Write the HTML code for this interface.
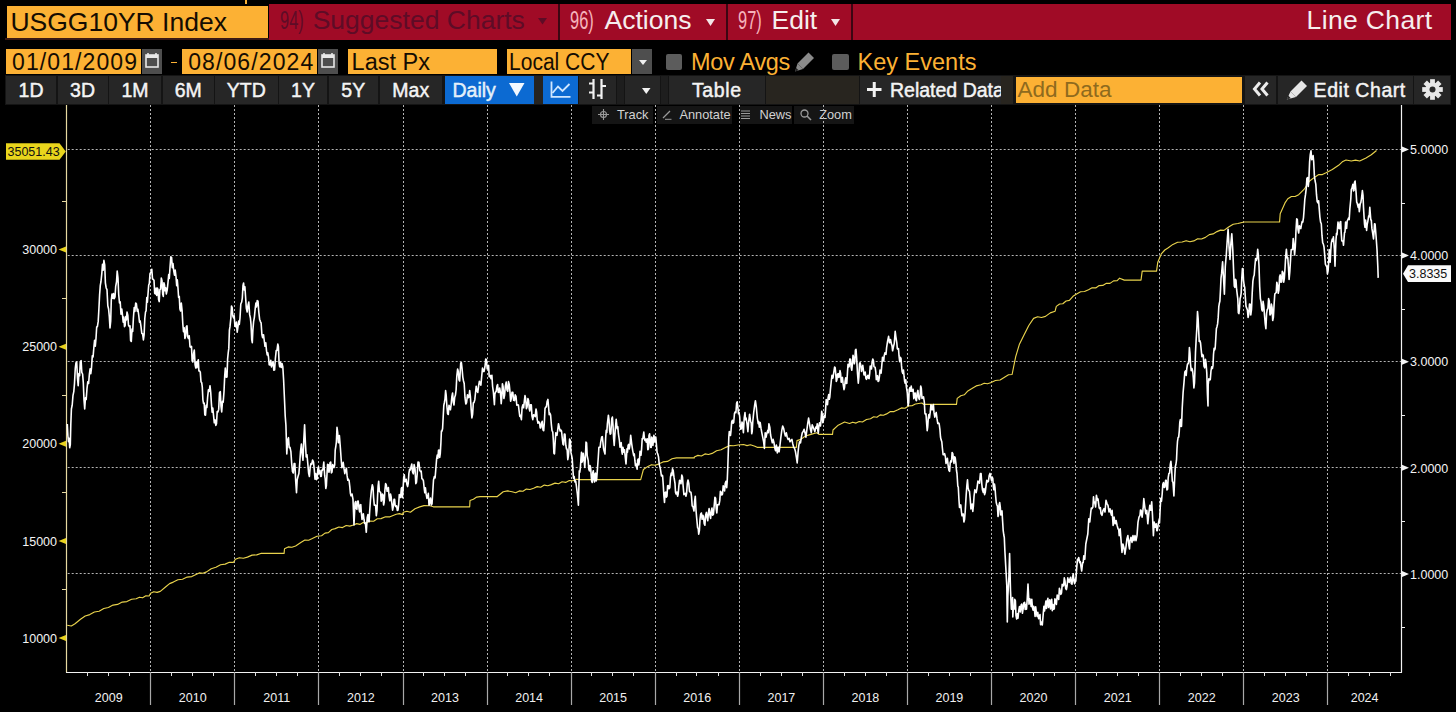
<!DOCTYPE html>
<html><head><meta charset="utf-8">
<style>
*{margin:0;padding:0;box-sizing:border-box}
html,body{width:1456px;height:712px;background:#000;overflow:hidden}
body{position:relative;font-family:"Liberation Sans",Arial,sans-serif}
.a{position:absolute}
.t{position:absolute;white-space:nowrap}
.or{position:absolute;background:#fcb134}
.rd{position:absolute;background:#a00b26}
.r1{font-size:26.5px;color:#f6eeee}
.r2{font-size:23.5px;color:#140c02}
.gb{position:absolute;background:#4e4e4e}
.bt{position:absolute;top:76px;height:28px;background:#262626;color:#f4f4f4;font-size:19.5px;-webkit-text-stroke:0.45px #f4f4f4;text-align:center;line-height:28px;white-space:nowrap;overflow:hidden}
.cn{display:inline-block;transform:scaleX(.62);transform-origin:0 50%}
.sb{position:absolute;top:106px;height:18px;background:#151515}
.st{position:absolute;top:107.3px;font-size:12.8px;color:#d2d2d2;white-space:nowrap}
.lr{font-size:12.5px;color:#f4f4f4;line-height:16px}
.ll{font-size:12.5px;color:#f4f4f4;line-height:16px;text-align:right}
.yl{font-size:12.5px;color:#f0f0f0;text-align:center;line-height:16px}
</style></head><body>
<!-- row 1 -->
<div class="a" style="left:245px;top:0;width:2px;height:4px;background:#fcb134"></div>
<div class="or" style="left:7px;top:6px;width:261px;height:32px"></div>
<div class="a" style="left:5px;top:38px;width:264px;height:2px;background:#3a1a14"></div>
<div class="t" style="left:10.4px;top:7.4px;font-size:26.5px;color:#140c02">USGG10YR Index</div>
<div class="a" style="left:269px;top:4px;width:1182px;height:35.5px;background:#3c0612"></div>
<div class="rd" style="left:269px;top:4px;width:289px;height:35.5px"></div>
<div class="t r1" style="left:280px;top:4.6px;color:#5e0c26"><span class="cn">94)</span></div>
<div class="t r1" style="left:312.7px;top:4.6px;color:#5e0c26">Suggested Charts</div>
<svg class="a" style="left:538px;top:18px" width="9" height="7"><path d="M0 0H9L4.5 6.5Z" fill="#5e0c26"/></svg>
<div class="rd" style="left:560px;top:4px;width:166px;height:35.5px"></div>
<div class="t r1" style="left:570px;top:4.6px;color:#f5b3bb"><span class="cn">96)</span></div>
<div class="t r1" style="left:604.5px;top:4.6px">Actions</div>
<svg class="a" style="left:706px;top:18.5px" width="9" height="7"><path d="M0 0H9L4.5 7Z" fill="#f3e6e6"/></svg>
<div class="rd" style="left:728px;top:4px;width:123px;height:35.5px"></div>
<div class="t r1" style="left:738px;top:4.6px;color:#f5b3bb"><span class="cn">97)</span></div>
<div class="t r1" style="left:771.5px;top:4.6px">Edit</div>
<svg class="a" style="left:830.5px;top:18.7px" width="9" height="7"><path d="M0 0H9L4.5 7Z" fill="#f3e6e6"/></svg>
<div class="rd" style="left:853px;top:4px;width:598px;height:35.5px"></div>
<div class="t r1" style="left:1306.6px;top:4.9px;letter-spacing:0.35px">Line Chart</div>

<!-- row 2 -->
<div class="or" style="left:6px;top:49px;width:135px;height:25px"></div>
<div class="t r2" style="left:12px;top:48.6px;font-size:23px;letter-spacing:1.1px">01/01/2009</div>
<div class="gb" style="left:142px;top:49px;width:20px;height:25px"></div>
<svg class="a" style="left:145px;top:52px" width="14" height="17"><path d="M3 1V4M11 1V4" stroke="#e8e8e8" stroke-width="1.6"/><rect x="1" y="3" width="12" height="12" fill="none" stroke="#e8e8e8" stroke-width="1.6"/><rect x="1" y="3" width="12" height="3" fill="#e8e8e8"/></svg>
<div class="a" style="left:170.5px;top:61.5px;width:6.5px;height:1.6px;background:#fcb134"></div>
<div class="or" style="left:182px;top:49px;width:135px;height:25px"></div>
<div class="t r2" style="left:188.2px;top:48.6px;font-size:23px;letter-spacing:1.1px">08/06/2024</div>
<div class="gb" style="left:318px;top:49px;width:20px;height:25px"></div>
<svg class="a" style="left:321px;top:52px" width="14" height="17"><path d="M3 1V4M11 1V4" stroke="#e8e8e8" stroke-width="1.6"/><rect x="1" y="3" width="12" height="12" fill="none" stroke="#e8e8e8" stroke-width="1.6"/><rect x="1" y="3" width="12" height="3" fill="#e8e8e8"/></svg>
<div class="or" style="left:348px;top:49px;width:149px;height:25px"></div>
<div class="t r2" style="left:351.6px;top:48.7px">Last Px</div>
<div class="or" style="left:507px;top:49px;width:124px;height:25px"></div>
<div class="t r2" style="left:508.5px;top:49.4px;transform:scaleX(0.895);transform-origin:0 0">Local CCY</div>
<div class="gb" style="left:632px;top:49px;width:20px;height:25px"></div>
<svg class="a" style="left:639px;top:59.5px" width="8" height="6"><path d="M0 0H8L4 5Z" fill="#f0f0f0"/></svg>
<div class="a" style="left:666px;top:54px;width:16px;height:16px;background:#5c5c5c;border-radius:2px"></div>
<div class="t r2" style="left:691px;top:48.7px;color:#fcb134;letter-spacing:-0.3px">Mov Avgs</div>
<svg class="a" style="left:794px;top:51px" width="22" height="21"><path d="M14.5 1.5L20 7L9 18L3.5 12.5Z" fill="#8a8a8a"/><path d="M3.5 12.5L9 18L1 20.5Z" fill="#8a8a8a"/><path d="M1 20.5L2.2 17L4.6 19.3Z" fill="#222"/></svg>
<div class="a" style="left:832px;top:54px;width:17px;height:16px;background:#5c5c5c;border-radius:2px"></div>
<div class="t r2" style="left:857.6px;top:48.7px;color:#fcb134">Key Events</div>

<!-- row 3 -->
<div class="a" style="left:5px;top:75px;width:1446px;height:30px;background:#141414"></div>
<div class="bt" style="left:6px;width:50px">1D</div>
<div class="bt" style="left:57.5px;width:50px">3D</div>
<div class="bt" style="left:109px;width:52px">1M</div>
<div class="bt" style="left:162.5px;width:51.5px">6M</div>
<div class="bt" style="left:215px;width:62.5px">YTD</div>
<div class="bt" style="left:279px;width:48px">1Y</div>
<div class="bt" style="left:328.5px;width:49.5px">5Y</div>
<div class="bt" style="left:380px;width:61.5px">Max</div>
<div class="bt" style="left:445px;width:89.3px;background:#0c6ad2;color:#dcefff;text-align:left;padding-left:7.5px">Daily</div>
<svg class="a" style="left:509px;top:83px" width="15.5" height="14"><path d="M0 0H15.5L7.75 13.5Z" fill="#f2f8ff"/></svg>
<div class="bt" style="left:534.3px;width:8.7px;background:#26231f"></div>
<div class="bt" style="left:543px;width:35px;background:#0c6ad2"></div>
<svg class="a" style="left:550px;top:81px" width="22" height="17"><path d="M1.5 0.5V15.8H20.5" stroke="#cfe6ff" stroke-width="1.8" fill="none"/><path d="M2.5 12L8 5.5L12.5 10L19.5 3" stroke="#cfe6ff" stroke-width="1.8" fill="none"/></svg>
<div class="bt" style="left:578.5px;width:37.5px"></div>
<svg class="a" style="left:588px;top:78px" width="19" height="22"><path d="M5.5 1V21M13.5 1V21" stroke="#f2f2f2" stroke-width="2.2"/><path d="M1 5.5H5.5M13.5 8H18M1 14.5H5.5M9 17.5H13.5" stroke="#f2f2f2" stroke-width="2"/></svg>
<div class="bt" style="left:617px;width:6.5px;background:#1e1e1e"></div>
<div class="bt" style="left:624.6px;width:35.4px"></div>
<svg class="a" style="left:642px;top:87.7px" width="8.5" height="6"><path d="M0 0H8.5L4.25 6Z" fill="#f2f2f2"/></svg>
<div class="bt" style="left:661px;width:6.5px;background:#1e1e1e"></div>
<div class="bt" style="left:669px;width:95.6px;letter-spacing:0.6px">Table</div>
<div class="bt" style="left:766px;width:92.6px;background:#28251f"></div>
<div class="bt" style="left:860px;width:141.3px;text-align:left;padding-left:30px">Related Data</div>
<svg class="a" style="left:867.4px;top:81.6px" width="14.5" height="15"><path d="M7.25 0V15M0 7.5H14.5" stroke="#f2f2f2" stroke-width="3"/></svg>
<div class="bt" style="left:1001.3px;width:12px;background:#28251f"></div>
<div class="or" style="left:1016.4px;top:77px;width:226px;height:25.5px"></div>
<div class="t" style="left:1017.6px;top:76.5px;font-size:22.5px;color:#8e6a1e">Add Data</div>
<div class="bt" style="left:1245.4px;width:30.6px"></div>
<svg class="a" style="left:1252px;top:81.4px" width="18" height="16"><path d="M8 1.5L2.5 8L8 14.5M15.5 1.5L10 8L15.5 14.5" stroke="#ececec" stroke-width="3" fill="none"/></svg>
<div class="bt" style="left:1278.3px;width:134.5px;text-align:left;padding-left:35.3px;letter-spacing:0.55px">Edit Chart</div>
<svg class="a" style="left:1285.5px;top:79.5px" width="22" height="20"><path d="M15.5 0.5L21 6L10 17L4.5 11.5Z" fill="#e6e6e6"/><path d="M4.5 11.5L10 17L0.8 19.6Z" fill="#e6e6e6"/><path d="M0.8 19.6L2.2 15.5L4.9 18.2Z" fill="#2b2b2b"/></svg>
<div class="bt" style="left:1414.3px;width:35.5px"></div>
<svg class="a" style="left:1421.5px;top:79px" width="21" height="21" viewBox="-10.5 -10.5 21 21"><g fill="#e8e8e8"><circle r="7"/><rect x="-2.4" y="-10.3" width="4.8" height="20.6"/><rect x="-2.4" y="-10.3" width="4.8" height="20.6" transform="rotate(45)"/><rect x="-2.4" y="-10.3" width="4.8" height="20.6" transform="rotate(90)"/><rect x="-2.4" y="-10.3" width="4.8" height="20.6" transform="rotate(135)"/></g><circle r="3" fill="#2b2b2b"/></svg>

<!-- sub toolbar -->
<div class="sb" style="left:592px;width:61px"></div>
<svg class="a" style="left:598px;top:109px" width="11" height="11"><circle cx="5.5" cy="5.5" r="3" fill="none" stroke="#9a9a9a" stroke-width="1.1"/><path d="M5.5 0V11M0 5.5H11" stroke="#9a9a9a" stroke-width="1.1"/></svg>
<div class="st" style="left:617px">Track</div>
<div class="sb" style="left:657.4px;width:74.8px"></div>
<svg class="a" style="left:662px;top:109px" width="10" height="11"><path d="M1 9L8 2" stroke="#9a9a9a" stroke-width="1.3"/><path d="M3 10.3H9.5" stroke="#9a9a9a" stroke-width="1"/></svg>
<div class="st" style="left:679.4px">Annotate</div>
<div class="sb" style="left:739.5px;width:52.8px"></div>
<svg class="a" style="left:741px;top:109.5px" width="9" height="10"><path d="M0 1H9M0 3.5H9M0 6H9M0 8.5H9" stroke="#9a9a9a" stroke-width="1.2"/></svg>
<div class="st" style="left:759.4px">News</div>
<div class="sb" style="left:794.3px;width:59.7px"></div>
<svg class="a" style="left:800px;top:108.5px" width="12" height="12"><circle cx="4.5" cy="4.5" r="3.5" fill="none" stroke="#9a9a9a" stroke-width="1.3"/><path d="M7 7L11 11" stroke="#9a9a9a" stroke-width="1.6"/></svg>
<div class="st" style="left:819.2px">Zoom</div>

<!-- CHART -->
<svg class="a" style="left:0;top:0" width="1456" height="712" viewBox="0 0 1456 712">
<path d="M67.7 149.5 H1401.5 M67.7 255.5 H1401.5 M67.7 361.5 H1401.5 M67.7 467.5 H1401.5 M67.7 573.5 H1401.5 M150.5 105 V672 M234.5 105 V672 M318.5 105 V672 M403.5 105 V672 M487.5 105 V672 M571.5 105 V672 M655.5 105 V672 M739.5 105 V672 M823.5 105 V672 M907.5 105 V672 M991.5 105 V672 M1075.5 105 V672 M1159.5 105 V672 M1243.5 105 V672 M1327.5 105 V672" stroke="#b4b4b4" stroke-width="1" stroke-dasharray="2 2" fill="none"/>
<path d="M66.5 105V672.5" stroke="#e6d9a0" stroke-width="1.2" fill="none"/>
<path d="M1401.5 105V672.5" stroke="#f2f2f2" stroke-width="1.2" fill="none"/>
<path d="M66 672.5H1402" stroke="#f2f2f2" stroke-width="1.2" fill="none"/>
<path d="M150.5 672V705 M234.5 672V705 M318.5 672V705 M403.5 672V705 M487.5 672V705 M571.5 672V705 M655.5 672V705 M739.5 672V705 M823.5 672V705 M907.5 672V705 M991.5 672V705 M1075.5 672V705 M1159.5 672V705 M1243.5 672V705 M1327.5 672V705" stroke="#a8a8a8" stroke-width="1.2" fill="none"/>
<path d="M87.5 672V676 M108.5 672V676 M129.5 672V676 M171.5 672V676 M192.5 672V676 M213.5 672V676 M255.5 672V676 M276.5 672V676 M297.5 672V676 M339.5 672V676 M360.5 672V676 M381.5 672V676 M423.5 672V676 M444.5 672V676 M465.5 672V676 M507.5 672V676 M528.5 672V676 M549.5 672V676 M591.5 672V676 M612.5 672V676 M633.5 672V676 M676.5 672V676 M696.5 672V676 M718.5 672V676 M760.5 672V676 M781.5 672V676 M802.5 672V676 M844.5 672V676 M865.5 672V676 M886.5 672V676 M928.5 672V676 M949.5 672V676 M970.5 672V676 M1012.5 672V676 M1033.5 672V676 M1054.5 672V676 M1096.5 672V676 M1117.5 672V676 M1138.5 672V676 M1180.5 672V676 M1201.5 672V676 M1222.5 672V676 M1264.5 672V676 M1285.5 672V676 M1306.5 672V676 M1348.5 672V676 M1369.5 672V676 M1390.5 672V676" stroke="#e0e0e0" stroke-width="1" fill="none"/>
<path d="M1401 203.5H1405 M1401 309.5H1405 M1401 415.5H1405 M1401 521.5H1405 M1401 627.5H1405" stroke="#f0f0f0" stroke-width="1" fill="none"/>
<path d="M62 201.5H66 M62 298.5H66 M62 395.5H66 M62 492.5H66 M62 589.5H66" stroke="#e6d9a0" stroke-width="1" fill="none"/>
<path d="M1402 146.5 L1409 149.5 L1402 152.5Z M1402 252.6 L1409 255.6 L1402 258.6Z M1402 358.7 L1409 361.7 L1402 364.7Z M1402 464.8 L1409 467.8 L1402 470.8Z M1402 570.9 L1409 573.9 L1402 576.9Z" fill="#f4f4f4"/>
<path d="M66 246.6 L58.5 249.6 L66 252.6Z M66 343.7 L58.5 346.7 L66 349.7Z M66 440.8 L58.5 443.8 L66 446.8Z M66 537.9 L58.5 540.9 L66 543.9Z M66 635 L58.5 638 L66 641Z" fill="#e8d21e"/>
<path d="M67.2 625.3L71.3 626L75 623.8L80.5 619.2L85.2 616L89.8 614.6L94.4 612L99.1 611.2L103.8 608.5L108.4 607.5L113 605.1L117.6 604.4L122.2 602.1L126.9 601.6L131.6 599.3L136.2 598.8L139.4 597.2L142.6 597.8L145.9 595.8L149.1 596L150.6 593.2L153.8 591.7L157.1 592.4L160.3 591.4L165.8 586.8L169.6 583.6L173.3 582.1L177.9 579.8L182.5 579.3L187.2 577.1L191.8 576.6L195.5 574.7L199.2 572.9L202.9 573.2L206.6 571.9L211.2 568.7L215.9 567.3L220.6 564.8L225.2 564.1L229.3 562.3L233.5 562.3L235.4 559.3L239.4 557.7L243.4 558.2L247.4 557.1L252.1 555.1L256.7 554.9L261.4 553.2L266 553.4L284.1 553.4L284.1 553.4L284.5 548.7L288.2 546.9L291.9 547.3L295.6 546L301.2 542.3L304.9 540.1L308.6 540.2L312.3 538.5L317 536.2L321.6 535.8L325 533.1L328.4 532.6L331.8 529.5L335.2 528.6L338.9 527L342.5 527.6L346.2 525.5L349.8 526.1L353.5 525L356.7 523.6L359.9 524.4L363.1 522.6L366.3 523L370 521L373.6 521.2L377.3 518.8L381 518.6L385.5 516.8L390 516.8L396.2 514.3L399.4 513.6L402.6 514.6L403.3 512.2L406.9 511.3L410.4 512.2L415 508.7L419.7 506.9L424 505.6L430 505.8L433.3 506.8L469.7 506.8L469.7 506.8L470 500.5L473.4 499.3L476.7 497.1L480 496.6L497 496.6L497 496.8L503.2 491.8L507.6 490.9L512.1 491.8L515.7 492.7L519.3 490.9L522.9 491.3L526.4 489.1L530 489.5L533.6 488.2L537.2 486.6L540.7 487.2L544.3 485.1L547.8 485.7L551.4 484.6L555 483.1L558.6 483.7L562.1 481.8L565.7 482.4L569.3 480.5L572.9 480.7L576.5 479.2L580 479.6L640.7 479.6L640.7 479.6L643.4 469.5L647.9 466.4L651.5 464.7L655 465.3L658.6 464.1L663 461.9L667.5 461.4L672 458.8L676.4 457.9L694.3 457.9L694.3 457L697.9 455.4L701.4 456L705 453.9L708.5 454.5L712.1 453.4L716.6 450.7L721.1 449.8L726.4 447.1L730 445.5L733.6 445.7L738 445L743.6 444.5L747 445.6L750.4 444.8L754.9 446.2L757.1 447.3L796.4 447.3L796.4 447.3L797 440.6L800.9 439.4L805.4 436L811 434.4L816.7 432.7L818.9 434.4L832.5 434.4L832.5 434.5L833 430L838.2 425.2L844.6 422L849.5 423.5L852.7 422.2L856 423.1L859.2 421.5L862.4 422L866.5 419.5L870.5 418.7L873.7 416.8L876.9 417.2L880.2 414.9L883.4 415.3L886.6 413.9L890.4 411.6L894.1 411.6L897.9 409.8L901.4 407.9L905 408.2L908.5 405.9L912 405.8L915.4 404L921.8 403L923.9 404.4L956.5 404.4L956.5 404.4L957.2 398.4L960.8 395.7L964.3 394.8L967.9 390.9L971.5 388.8L976.2 385.9L981 384.7L984.2 383.2L987.4 383.8L990.6 382.8L995.4 380.5L1000.1 380L1004.9 376.9L1008.5 374.8L1012.1 374.5L1013.3 368.5L1015.7 356.6L1019.3 344.6L1024 335L1028.8 325.5L1033.6 318.4L1037.6 316.8L1041.5 317.5L1045.5 316.4L1050.3 312.9L1055.1 311.2L1056.3 306.4L1059.6 304L1062.8 303.8L1066.1 301L1069.4 300.4L1073 296.3L1076.6 294L1080.6 291.7L1084.5 291.5L1088.5 289.7L1092.1 287.7L1095.7 287.9L1099.2 285.6L1102.8 285.4L1106.4 283.3L1110 283.4L1113.6 280.9L1117.2 280.6L1119.6 278.2L1124.3 280.1L1141 280.1L1141 280.1L1142.2 271.1L1156.6 271.1L1156.6 270.6L1157.8 262.2L1161.3 253.9L1164.8 250L1168.3 247.8L1172.9 244.4L1177.6 242.3L1182.2 242L1186.1 240.7L1189.9 241.7L1193.8 240.9L1197.7 238.8L1201.5 239L1205.4 237.4L1209.3 234.6L1213.1 233.9L1217 231.6L1220.5 230.1L1224 230.4L1228.6 227L1233.2 224.3L1237.9 223.5L1244 222L1279.6 222L1279.6 221.5L1280.2 213.8L1285 202.9L1287.8 198.8L1291.4 196.5L1295.1 196.5L1298.7 194.7L1304.2 189.2L1309.6 181L1315.1 176.9L1318.8 174.6L1322.4 174.6L1326.1 172.8L1332.3 169.5L1338.6 165.3L1342.3 161.8L1346 160L1351.3 161L1355.5 160.1L1359.7 161L1366 157.9L1371.3 154.7L1376.5 150.5" stroke="#e8d24c" stroke-width="1.15" fill="none" stroke-linejoin="round"/>
<path d="M67.3 424L67.9 436L68.5 441.7L69.1 438.2L69.7 447.8L70.3 444.7L70.8 424.8L71.4 409L72.2 405.2L73 395.3L73.8 391.6L74.5 383.4L75.3 368L76 362.7L76.7 362L77.5 378.3L78.2 385.7L78.9 373.6L79.6 375.8L80.3 362L81.1 360.6L81.8 372.4L82.6 374L83.3 382.6L84 399.9L84.7 409L85.5 397.7L86.2 399.5L87 388.6L87.8 381.7L88.6 383.5L89.4 374L90.1 368.9L90.8 373.7L91.5 368L92.3 355.9L93.1 356.8L93.9 347L94.6 340.2L95.3 346.2L96 338.5L96.7 326.7L97.4 326.7L98.2 321.4L98.9 309L99.6 294.8L100.3 285.4L101 281.5L101.8 273.6L102.5 264.2L103.2 270.2L103.9 260.3L104.7 264.8L105.4 283L106.2 288L107 289.7L107.8 305.8L108.6 309L109.3 316.4L110 328L110.7 321.2L111.3 300.1L112 294L112.8 298.2L113.5 293.6L114.2 298.8L115 297L115.7 286.3L116.5 282L117.2 271L118 278.2L118.7 294.5L119.5 303L120.2 301.9L121 314.2L121.8 309L122.5 315L123.2 322.2L123.8 317L124.5 326.7L125.1 325.6L125.8 316.6L126.4 319.9L127 312L127.8 315.1L128.5 325.2L129.3 326.7L130 325.8L130.6 340.5L131.3 341.4L132 329L132.7 331.4L133.4 318L134.2 307.5L134.9 311.4L135.7 303L136.4 303.8L137.2 311.1L137.9 309.3L138.7 315L139.5 322.1L140.2 321L141 326.7L141.8 333.4L142.6 333.7L143.4 340L144.1 335L144.8 318.5L145.5 312L146.1 310.8L146.8 297.6L147.4 302.3L148 294L148.7 285L149.3 283.6L150 273.6L151 272L151.8 269.2L152.5 278.9L153.3 279.5L154 280.3L154.7 293.2L155.4 294L156.1 288L156.7 295.4L157.4 288L158 289.6L158.6 299.6L159.2 301.6L159.9 289.7L160.6 289.1L161.3 278L162 280.8L162.7 294L163.3 296.4L163.9 282.8L164.5 285L165.1 290.8L165.7 287.7L166.3 294L167.2 290.1L168 282.4L168.7 274.6L169.3 278.4L170 267.7L170.8 256.8L171.6 257.4L172.3 267.6L173 263.5L173.7 270.6L174.5 275.2L175.2 270.1L176 276.5L176.7 285.8L177.3 279.8L178 288.3L178.6 297.4L179.3 296.5L179.9 309L180.6 311L181.3 303L182.1 310.8L182.8 323.7L183.5 331.8L184.2 327.7L184.9 338.5L185.6 336.1L186.3 326.7L187 325.8L187.7 336.9L188.4 338.5L189.2 335.8L190 346.8L190.8 347.3L191.5 346.3L192.1 360.4L192.8 362L193.6 353.6L194.3 350L195.1 364.9L195.8 368L196.4 362L197 367.6L197.6 362L198.3 359.7L198.9 370.9L199.6 371L200.3 372.1L201 381.7L201.7 382.7L202.3 387.2L202.9 399.8L203.5 403.4L204.2 403.1L204.8 414.8L205.5 415.2L206.2 405.4L206.9 407.4L207.6 397.5L208.4 389.9L209.2 391.4L210 385.7L210.7 392L211.4 403.4L212.1 412.2L212.8 408.1L213.5 415.2L214.3 422.8L215 419.8L215.8 425.5L216.5 423.8L217.2 411.5L217.9 412L218.7 409.4L219.5 392.8L220.3 391.6L221 406.2L221.7 412L222.5 401.2L223.2 402.1L224 391.6L224.7 376L225.3 368L226.2 377.2L227 377L227.6 359.2L228.2 353L228.8 348.4L229.4 330.1L230 326.7L230.8 318.7L231.5 306L232.2 307.8L232.8 316L233.5 317.8L234.2 315.7L234.9 326.2L235.6 326.7L236.4 322.1L237.2 332.2L238 326.7L238.7 321.1L239.3 324.4L240 318L240.8 304L241.7 302L242.3 298.1L243 285.4L243.6 283L244.2 289.9L244.9 286.7L245.5 295.8L246.3 308L247.2 312L248 305.1L248.8 302L249.6 314.4L250.4 318L251 324.1L251.7 339.5L252.3 342.6L252.9 329.9L253.6 321.6L254.4 317.1L255.2 308.7L255.9 303.1L256.5 306.9L257.2 300.6L258 301.1L258.8 312L259.6 319.2L260.4 321.6L261.1 322.8L261.9 334.5L262.6 337.7L263.5 334.7L264.3 341L265 346.3L265.8 342.9L266.5 350.6L267.2 354.9L267.8 352.8L268.5 357L269.2 364.7L270 365L270.8 360.4L271.5 366.9L272.3 363.5L273.1 361.7L273.8 370.1L274.6 370L275.4 358.3L276.2 350.6L277 350.4L277.8 344L278.4 346.6L279.1 363.1L279.7 366.8L280.5 362.4L281.2 367.5L282 363.5L282.8 366.7L283.6 379.7L284.6 402L285.2 416L285.9 424.8L286.8 454L287.6 440.1L288.5 437.7L289.2 447.8L290 447.4L290.9 451.6L291.7 463.5L292.5 471.7L293.3 473L294.1 463.6L294.9 463.5L295.7 481.3L296.5 492.6L297.2 479.8L298 476.5L298.9 473.5L299.7 463.5L300.5 451.7L301.4 444L302.2 454.2L303 460.3L303.8 439.7L304.6 424.8L305.4 443.1L306.2 457L307 454.8L307.8 463.5L308.6 473L309.4 476.5L310.2 467L311 463.5L311.8 464.2L312.6 460L313.5 462.1L314.3 470L315 479.1L315.8 473.6L316.5 479.7L317.2 478.5L317.8 469.3L318.5 466.8L319.2 473.8L320 470.6L320.7 476.5L321.3 476.2L321.9 470.1L322.5 470.2L323.1 468.1L323.8 462L324.7 475.7L325.2 479L325.8 488.5L326.4 485.5L327 474L327.6 464.4L328.3 464.7L328.9 472.3L329.4 470.2L330 462.7L330.7 462L331.4 472.9L332 472L332.7 464.5L333.4 466.6L334 467.6L334.7 464.7L335.2 450.1L335.8 446.5L336.4 441.8L337 427.3L337.7 432.7L338.4 442.8L339.4 435.5L340.4 448.3L341.3 461L341.9 467.7L342.5 466.6L343.2 462.3L344 468.4L344.8 473.6L345.6 470.2L346.4 468.3L347.1 475.7L347.8 480.3L348.4 479.3L349.1 480.6L349.8 486.6L350.4 493.4L351 495.8L352 494L353 499.4L354 525L355 503L355.6 501.6L356.2 508.5L356.9 509.3L357.5 501.2L358.2 501L359 508.5L359.6 511.9L360.2 505L360.8 504.7L361.3 512.2L362 519.5L362.6 517.7L363.3 513.7L364 519.5L364.7 523.4L365.4 523L366.3 532.3L367.2 517.7L367.9 514.6L368.5 521.3L369.1 521.7L369.6 512.2L370.5 499.4L371.4 490.3L372.3 484.8L373 487.3L373.6 497.6L374.3 505.1L375 505L375.6 505.4L376.3 515.8L377 510.3L377.6 495.8L378.1 486.1L378.7 481.2L379.4 491.5L380 492L380.6 492.4L381.2 501.2L381.8 499.7L382.3 494L383 494.9L383.6 505L384.2 502.3L384.9 490.3L385.6 483.6L386.3 484.8L387.1 491.3L387.8 490.3L388.4 487.5L389 495.8L389.8 500.8L390.5 494L391.1 496.6L391.8 503L392.6 510.1L393.3 506.7L394 499.4L394.6 499.4L395.2 505.7L395.8 506.7L396.6 505.9L397.3 510.4L398 510.1L398.6 505L399.3 494.6L400 495.8L400.6 497.4L401.3 488.5L401.9 487.5L402.4 497.6L403 490.3L403.7 477.5L404.3 474.9L404.9 481.8L405.5 481.2L406.2 479.3L407 484.8L407.6 486.6L408.2 483.7L408.9 473.4L409.6 469.3L410.3 470L411 467L411.8 464L412.5 471.7L413.3 473.8L414.1 464.6L415 468.6L415.8 483.7L416.5 482.2L417.2 474L418 462.1L418.9 462.2L419.8 470.3L420.6 471.7L421.2 471.1L421.9 478.7L422.5 478.9L423.4 480.7L424.2 488.4L424.8 492.8L425.4 487.7L426 493.2L426.9 498.4L427.7 496.8L428.3 493.3L429 505.2L429.6 502.7L430.5 498.1L431.3 505L432 503.9L432.7 493.2L433.5 480L434.4 476.5L435.1 477.9L435.8 469.3L436.6 459.1L437.3 455L437.9 458.3L438.5 450.2L439.1 450L439.7 457.4L440.3 453.3L440.9 443L441.4 431.1L442 431L442.6 428.5L443.2 416.8L443.8 405.5L444.4 402.5L445 399.1L445.6 390.6L446.2 395.1L446.8 405L447.6 413.6L448.3 414.4L449 405.2L449.7 407.3L450.4 409.8L451.1 405L451.9 396.4L452.6 393L453.3 402.2L454 405L454.7 397.3L455.4 395.3L456.1 390L456.8 376.3L457.6 369L458.3 371.5L459 379.8L459.7 381L460.7 363L461.4 362.6L462.1 369L462.8 377.1L463.5 381L464.2 383.5L465 397.7L465.8 404L466.6 402.5L467.5 394.7L468.3 397.7L469 397.1L469.7 390.6L470.4 396.7L471.2 409.7L471.9 417.9L472.6 414.4L473.3 403L474 402.5L474.8 399.7L475.5 393L476.2 386.2L476.9 390.6L477.8 392.5L478.6 385.8L479.4 381.2L480.2 383.4L480.9 385.1L481.7 376.3L482.5 368L483.3 371.5L484.1 371.4L485 366.7L485.7 359.1L486.4 359.5L487.2 368.9L488 366.7L488.6 365.4L489.2 376.8L489.8 376.3L490.4 375.5L491 378.6L491.9 375.3L492.6 386.5L493.4 392.2L494.4 404.8L494.9 394L495.5 392.2L496.2 391.3L497 385.8L497.6 384.5L498.2 392.2L498.9 392.4L499.7 388L500.4 391.9L501.2 403.8L501.8 397.2L502.4 383.7L503.1 386.8L503.9 398.5L504.6 395.2L505.4 385.8L506.2 382.1L507 390L507.8 391.3L508.5 381.6L509.2 384.1L510 392.2L510.6 401.2L511.3 398.5L512 392.3L512.8 392.2L513.6 400.3L514.5 400.6L515.2 394.9L516 396.4L516.8 405.2L517.6 404.8L518.4 405.1L519.1 411L519.8 416.4L520.4 415.3L521.4 419.6L522.1 407.5L522.9 404.8L523.6 407.8L524.4 400.6L525 395.6L525.6 398.5L526.4 408.6L527.1 407L527.9 398.6L528.6 400.6L529.2 408.5L529.8 411L530.5 404.9L531.3 404.8L532 416.1L532.8 419.6L533.6 414.7L534.5 415.3L535.2 416.7L536 409L536.6 411.9L537.2 419.6L538 423.3L538.7 421.7L539.5 422.5L540.2 428L540.8 428L541.4 423.8L542.2 421.3L543 430L543.7 430.7L544.4 421.7L545 408.6L545.7 407L546.4 406.9L547.1 401.6L547.9 399.4L548.6 407L549.2 414.7L549.9 413.2L550.6 415.1L551.3 423.8L552 430.5L552.8 432.2L553.3 439.8L553.9 453.3L554.5 453.8L555.1 442.7L555.8 432.7L556.4 434.3L557 435.4L557.7 430L558.5 423.7L559.4 428L560.1 431L560.8 430L561.5 430.9L562.3 438.5L563 444.3L563.6 444.9L564.3 434L565 434.3L565.8 445.2L566.5 449L567.1 449.3L567.8 459.6L568.4 456.2L569 449L569.6 439.1L570.3 440.6L571 452.9L571.6 455.4L572.2 458.5L572.8 468L573.5 478.1L574.1 476.5L575 482L575.7 481.1L576.4 486L577.4 494.4L578.4 505.3L579.3 470.8L579.8 472.2L580.4 467.4L581 458L581.5 452.2L582 462.1L582.6 460.7L583.2 453.2L583.8 457.3L584.8 467.4L585.4 457.5L586 442.1L586.6 443L587.2 455.6L588.2 460.7L588.8 469.2L589.4 470.8L590 465.5L590.6 467.4L591.6 481L592.2 482.4L592.8 472.5L593.3 470.7L593.9 479.2L594.5 482L595 474.2L595.5 473.2L596.1 481L596.7 479L597.3 470.8L598.3 457.3L598.9 447.2L599.5 447.2L600.1 447.3L600.7 442.1L601.7 437L602.3 436.7L602.9 442.1L603.5 448.3L604 450.6L605 454L605.6 439L606.2 430.3L606.8 432.5L607.4 423.6L608.4 415.2L609 419.8L609.6 430.3L610.2 434.2L610.8 433.7L611.8 418.5L612.4 417.1L613 425.3L613.6 438.2L614.2 445.5L615.2 430.3L616.2 419.4L617.2 428.7L617.8 426.8L618.4 433.7L619.4 440.5L620 447.1L620.6 443.8L621.2 442.6L621.7 450.6L622.3 454.2L622.9 447.2L623.9 452.2L624.5 449.7L625.1 455.6L626 464L627 448.9L627.5 452.1L628.1 445.5L628.7 444.4L629.3 448.9L630 444.6L630.7 435.4L631.7 443.8L632.7 450.6L633.7 455.6L634.3 453.9L634.9 460.7L635.5 465.8L636.1 464L637.1 469.1L637.7 460.1L638.3 459L638.8 465L639.4 460.7L640 451.4L640.5 454L641 455.2L641.6 448.9L642.2 438.5L642.8 438.8L643.8 432L644.4 438.2L645 440.5L645.6 439L646.2 442.1L647.2 438.8L647.8 449.7L648.4 448.9L649 435.6L649.6 433.7L650.6 447.2L651.2 447.5L651.7 437L652.3 438.4L652.9 445.5L653.9 435.4L654.5 442L655.1 437L655.8 437L656.5 445.6L657.1 452.5L657.8 454L658.5 456.9L659.3 464.6L660.2 468L660.7 470.9L661.4 475.9L662 475.1L662.6 475.8L663.3 485.6L663.9 495.9L664.5 502.5L665.1 492.6L665.8 492L666.4 497.2L667 496.2L667.6 485.8L668.3 485.6L669 488.7L669.8 487.7L670.5 476.9L671.3 473L671.9 475.4L672.5 468.8L673.2 470.5L674 477.2L675 483.5L675.5 492.3L676.1 494L676.9 492L677.6 496.2L678.2 494L678.9 485.6L679.6 480.2L680.3 481.4L681 483.7L681.8 475.1L682.5 477L683.1 485.6L683.9 494.7L684.6 494L685.3 493.3L686 496.2L686.6 493.4L687.3 483.5L688 480L688.8 483.5L689.5 491.5L690.3 492L690.9 492.2L691.5 496.2L692.2 505.9L693 506.7L694 511L694.6 501.4L695.3 496.2L696 510.1L696.6 517.3L697.6 527.8L698.2 528.5L698.7 534.1L699.4 530.7L700 519.4L700.7 513.9L701.4 513L702.1 519.3L702.9 515.2L703.5 516.8L704.2 523.6L704.9 525.2L705.6 515.2L706.4 512.4L707.1 517.3L707.8 520.8L708.4 513L709.1 508.5L709.9 515.2L710.6 518.4L711.3 511L712 508L712.6 515.2L713.4 514.4L714.1 506.7L714.9 497.2L715.6 498.3L716.2 508.4L716.8 513L717.5 504.8L718.3 504.6L719 504.8L719.8 500.4L720.4 491.4L721 492L721.8 495L722.5 494L723.2 485.9L724 487.7L724.6 490.9L725.2 483.5L726 481.3L726.7 487.7L727.2 481.6L727.8 466.7L728.8 437.2L729.3 431.5L729.9 433L730.5 435.5L731 430.8L731.7 421.9L732.4 420.3L733 423.2L733.7 422.4L734.5 413.3L735.2 411.9L735.9 412.7L736.6 403.4L737.2 401.8L737.9 407.6L738.5 413.8L739.1 412.5L739.7 416.9L740.2 426L740.8 429.3L741.4 428.2L742 422L742.5 423.7L743.4 432.7L744.2 418L745 412.5L745.5 419.7L746.1 418L747 423.7L747.9 431.6L748.7 421.5L749.6 414.2L750.6 421.5L751.2 422.8L751.7 433.8L752.2 431.6L752.8 421.5L753.7 412.5L754.6 405.7L755.4 400.7L756.3 406.9L757.3 418L758.2 423.7L758.8 421.5L759.3 427.1L760.2 422.6L761 428.2L761.8 432.7L762.7 437.2L763.6 441.7L764.4 448.4L765.2 432.7L766.1 437.2L767 432.7L767.8 430.4L768.3 432.8L768.9 423.7L769.8 427.1L770.6 435L771.5 439.4L772.3 442.8L773.1 439.4L774 442.8L774.9 448.4L775.6 450.7L776.4 445L777.3 452.9L778.2 447.3L779.1 451.8L780 445L780.9 437.2L781.8 430.4L782.7 426L783.6 428.2L784.5 432.7L785.4 436L786.3 432.7L787.2 437.2L788.1 439.4L789.1 438.3L790 441.7L790.9 440.6L791.9 439.4L792.8 443.9L793.7 447.3L794.6 448.4L795.5 451.8L796.4 457.4L797.2 463L798 452.9L798.7 446.2L799.6 441.7L800.5 442.8L801.4 437.2L802.3 432.7L803.2 431.6L804.1 429.3L805 432.7L805.9 437.2L806.8 430.4L807.7 423.7L808.6 418L809.5 423.7L810.4 429.3L811.3 432.7L812.2 424.8L813.1 427.1L814 429.3L814.9 431.6L815.8 427.1L816.7 428.2L817.2 423.9L817.8 430.4L818.3 433.1L818.9 426L819.5 422.8L820 424.8L820.5 425.9L821.1 419.2L821.7 411.3L822.3 414.7L822.8 422.6L823.4 420.3L824 416L824.5 415.8L825 417.4L825.6 409.1L826.2 399.6L826.8 401.2L827.5 404.7L828.1 397.7L828.7 394.6L829.3 399.3L829.8 397.1L830.4 389.6L831.4 380L832 375.2L832.5 378.3L833 377.9L833.6 373.5L834.6 367L835.2 367.8L835.7 373.5L836.3 381.4L836.9 380L837.5 374.2L838.2 373.5L838.8 377.4L839.4 376.7L840 370.6L840.6 373.5L841.2 382.2L841.7 380L842.4 377.4L843 383.2L844 389.6L844.5 387.8L845.1 381.5L845.7 377.9L846.2 383.2L846.8 383.5L847.4 373.5L848 364.3L848.7 367L849.2 366.3L849.8 359L850.5 359.3L851.1 367L851.8 370.3L852.4 363.8L853 355.3L853.5 357.3L854.3 363.8L854.8 361.4L855.4 350L856 349.4L856.6 357.3L857.5 373.5L858.3 383.2L858.9 376.6L859.5 363.8L860.1 362.7L860.8 365.4L861.5 371.4L862.1 368.6L862.8 365.4L863.4 370.2L864 375L864.6 375L865.2 372.1L865.9 378.3L866.5 379.3L867.2 376.7L867.9 375.3L868.5 378.3L869.1 378.6L869.7 373.5L870.2 366L870.8 367L871.5 369L872.1 362.2L872.8 359L873.4 360.5L874 366.6L874.5 367L875.1 367.2L875.8 371.8L876.3 379.7L876.9 376.7L877.5 375.6L878.1 381.5L878.8 380.9L879.4 376.7L880 370.1L880.5 371.8L881.1 373.1L881.8 365.4L882.5 357.2L883.1 360.5L883.7 360.9L884.2 355.7L884.9 352.9L885.5 354.1L886 354.4L886.6 347.6L887.6 341.2L888.6 336.3L889.5 342.8L890.5 339.5L891.5 344.4L892 345.6L892.6 350.8L893.6 346L894.2 343.8L894.7 337.9L895.2 331.3L895.8 336.3L896.8 342.8L897.3 348.6L897.9 349.2L898.5 348.5L899 355.7L899.7 361.7L900.4 357.3L901 358.3L901.5 365.4L902.1 371.5L902.8 373.5L903.5 370L904.1 376.7L904.7 381.8L905.2 383.2L905.8 379.9L906.3 386.4L907.3 392.9L908.1 405.8L908.7 402.6L909.2 389.6L909.9 387.7L910.5 391.2L911.2 386L911.9 391.3L912.5 391L913.1 389.3L913.8 398.7L914.4 395.5L915.1 392.9L915.9 399.8L916.5 400.7L917.1 393.4L917.9 390.4L918.6 397.6L919.4 399.5L920.1 395.5L920.7 386L921.3 388.2L922 398.4L922.8 397.6L923.5 396.9L924.3 401.9L924.9 413.1L925.5 414.5L926 413.8L926.6 423L927.2 430.6L927.7 427.2L928.3 418L928.9 414.5L929.5 417.9L930.2 412.4L930.9 404.7L931.5 406.1L932.1 409.9L932.7 406.1L933.4 404.5L934 412.4L934.8 417.1L935.5 414.5L936.2 412.4L937 418.7L937.8 423.5L938.6 423L939.2 424L939.9 429.3L940.5 437L941.1 439.8L941.8 441.8L942.4 448.2L943.1 454.6L943.9 454.6L944.6 453.7L945.4 456.7L946 463.5L946.6 460.9L947.4 458.3L948.1 465.1L948.9 470.3L949.6 471.4L950.2 462.8L950.8 460.9L951.5 461.9L952.1 452.5L952.8 453.6L953.4 458.8L954 463.4L954.6 456.7L955.2 457.6L955.9 463L956.5 470.5L957 473.5L957.8 486.2L958.3 487.1L958.9 498.8L959.5 507.5L960.1 507.3L960.8 504.9L961.4 511.5L962 515.8L962.6 515.7L963.2 513.9L963.9 522L964.5 519.9L965.2 511.5L966.2 494.6L966.9 485.4L967.5 479.9L968.1 488.1L968.8 490.4L969.5 491.3L970.2 498.8L970.9 508.9L971.5 507.3L972.1 504L972.8 511.5L973.4 506L974 496.7L974.8 489.9L975.5 490.4L976.2 492.6L977 488.3L977.9 481.1L978.7 482L979.5 483.2L980.4 473.5L981.1 473.6L981.8 484.1L982.5 490.1L983.3 492.5L984 488.5L984.6 494.6L985.3 492.2L986 486.2L986.8 480.2L987.5 482L988.4 481.4L989.2 475.6L990 473.4L990.9 477.7L991.5 480.2L992.2 477L992.8 478.6L993.3 486.2L993.9 489.8L994.5 484L995 487.5L995.6 495.5L996.2 502.3L996.8 504.8L997.4 505.9L998 516.4L998.5 515L999.1 504.8L999.7 502.5L1000.3 507.1L1000.8 515L1001.4 511.8L1002 510.9L1002.6 521L1003.2 530.7L1003.8 535L1004.3 537.5L1004.9 551.2L1005.8 567.4L1006.8 586L1007.3 622L1007.9 595.3L1008.9 576.7L1009.6 553.5L1010.5 590.6L1011.4 609.2L1012 606.8L1012.6 597.6L1012.8 617L1013.4 608.3L1014.1 609.2L1014.7 599.3L1015.4 600.9L1016 615.7L1016.7 619L1017.4 613.9L1018 618.2L1018.7 611L1019.5 606.5L1020.3 612L1021.1 605L1021.8 604.1L1022.4 613.3L1023.1 609.2L1023.8 603.1L1024.6 602.3L1025.2 609.4L1025.9 604.5L1026.5 609.2L1027.2 599.4L1028 584L1029 604.2L1029.8 598.8L1030.5 601.3L1031.1 606.4L1031.8 599.3L1032.4 607.2L1033.1 610.1L1033.7 606.3L1034.4 609.2L1035.1 616.4L1035.7 606.9L1036.4 613.1L1037.1 616.4L1037.8 612.3L1038.6 618.7L1039.3 616L1040 614.5L1040.6 624.7L1041.3 622L1042.3 624.9L1043.3 613.1L1043.9 606.3L1044.6 610.9L1045.2 606.2L1045.9 601.1L1046.5 608.5L1047.2 601.3L1047.9 598.4L1048.5 607.5L1049.2 605.2L1049.8 599.7L1050.5 609L1051.1 603.3L1051.7 599.4L1052.3 610.7L1053 604.6L1053.6 609.2L1054.3 608.8L1054.9 598.8L1055.6 601.3L1056.4 604.4L1057.2 595.1L1058 597.4L1058.7 599.5L1059.4 588.2L1060.1 590.6L1060.8 594.4L1061.5 593L1062.2 584.4L1062.9 586L1063.6 585.8L1064.3 577.9L1065 581.1L1065.7 588.3L1066.4 589.6L1067.1 586L1067.8 577.9L1068.5 581.3L1069.2 582.4L1069.9 579L1070.6 577.3L1071.3 583.7L1072 584.2L1072.7 576.7L1073.3 573.7L1074 581.3L1074.7 583.7L1075.4 579L1075.8 581.1L1076.7 567.6L1077.5 559.2L1078.2 560.5L1078.7 557.5L1079.7 562.6L1080.3 561.6L1080.9 566L1081.7 571L1082.6 562.6L1083.2 562.6L1083.8 555.8L1084.8 559.2L1085.8 544L1086.8 539L1087.8 534L1088.8 518.8L1089.8 522L1090.8 512L1091.3 508L1091.9 508.7L1092.9 507L1093.5 496.9L1094 502.7L1094.6 501.9L1095.6 507L1096.4 495.2L1097.4 500.2L1098 498.9L1098.6 503.6L1099.2 508L1099.8 508.7L1100.4 507.6L1101 513.7L1102 515.4L1103 510.3L1104 508.7L1105 512L1106 500.2L1107 503.6L1108 505.3L1109 512L1110 508.7L1111 513.7L1111.5 515.3L1112.1 510.3L1113.1 525.5L1114.1 517.1L1115.1 523.8L1116.1 520.5L1117.1 525.5L1118.1 528.9L1118.7 529.5L1119.2 535.6L1120.2 528.9L1121.2 542.4L1122 552.5L1122.9 544L1123.9 547.4L1124.9 554.2L1125.9 547.4L1126.9 539L1127.9 535.6L1128.9 545.7L1129.5 548.9L1130 540.7L1131 537.3L1132 542.4L1133 535.6L1134 540.7L1135 535.6L1136 540.7L1137 535.6L1138 522.1L1139 517.1L1140 515.4L1140.5 510.1L1141.1 510.3L1142.1 517.1L1143.1 508.7L1143.8 498.5L1144.8 507L1145.8 513.7L1146.8 510.3L1147.8 523.8L1148.8 513.7L1149.8 505.3L1150.8 510.3L1151.7 501.9L1152.5 515.4L1153.4 535.6L1154.2 522.1L1155.2 527.2L1156.2 523.8L1156.8 530.6L1157.3 530.6L1158.3 523.8L1159.3 518.8L1159.5 523L1160.2 508.3L1160.8 498.3L1161.5 501.3L1162.2 493.8L1162.8 484.4L1163.5 482.5L1164.2 487.5L1164.9 487L1165.6 480.4L1166.2 480.3L1166.9 490L1167.6 489.3L1168.2 477.6L1168.9 473.5L1169.6 473.1L1170.3 464.5L1170.9 461.4L1171.6 469L1172.3 481.1L1173 482.5L1173.9 496L1174.8 475.8L1175.3 466.8L1175.9 464.5L1176.5 460.2L1177 448.8L1177.5 441.3L1178.1 437.5L1178.7 437.1L1179.3 430.8L1179.8 422.1L1180.4 419.5L1181 426.5L1181.5 426.3L1182.2 408.3L1183.1 392.5L1184 382.4L1184.8 372L1185.7 370.8L1186.2 375.4L1186.8 368.5L1187.5 364.1L1188.2 363.8L1188.8 361.3L1189.4 347.6L1190 353.3L1190.5 363.8L1191.2 370.6L1192 368.5L1192.7 371.3L1193.3 377.7L1193.9 388L1194.5 382.8L1195 368.5L1195.5 352.3L1196.1 340.6L1196.8 328.9L1197.5 311.6L1198.1 318.2L1198.7 331.3L1199.2 341.5L1199.8 340.6L1200.5 342.7L1201.2 349.9L1201.9 356.6L1202.6 354.5L1203.3 355.7L1204 366.1L1204.7 367.8L1205.4 359.2L1206.1 363.5L1206.8 373.1L1207.4 393.6L1208 406L1208.2 384.7L1208.9 378.7L1209.6 380L1210.3 379.5L1211 370.8L1211.7 366.9L1212.4 368.5L1213 365.4L1213.5 354.5L1214.1 348.4L1214.7 349.9L1215.2 348L1215.8 338.3L1216.4 328.4L1217 326.7L1217.6 323.9L1218.2 317.4L1218.8 306.7L1219.3 303.5L1219.9 301.1L1220.5 289.6L1221 278.1L1221.6 273.4L1222.6 261.8L1223.5 278L1224.4 294.2L1225.3 266.4L1226.3 254.8L1227.2 240.9L1228.1 229.3L1229.1 247.8L1230 259.4L1230.9 243.2L1231.8 233.9L1232.8 250.2L1233.7 273.4L1234.3 286.2L1234.9 287.3L1235.5 279.3L1236 280.3L1236.6 289.2L1237.2 294.2L1237.8 298.8L1238.3 312.8L1238.9 313.6L1239.5 308.1L1240.1 298.4L1240.7 296.5L1241.2 292.8L1241.8 278L1242.4 268.5L1243 268.7L1243.5 280.1L1244.1 285L1244.7 287.4L1245.3 296.5L1246 306.3L1246.7 308.1L1247.4 310.1L1248.1 317.4L1248.8 314.3L1249.5 304.1L1250.2 304.3L1250.8 315L1251.5 309.4L1252.2 293.2L1252.9 281.1L1253.6 276.8L1254.2 275.2L1254.9 265.8L1255.6 258.6L1256.3 260.4L1257 258.1L1257.7 249.4L1258.3 254.5L1259 265.8L1259.7 286.7L1260.4 298.6L1261.1 302.1L1261.8 309.6L1262.4 311L1263.1 301.4L1263.8 306.2L1264.5 315L1265.2 323.7L1265.9 328.7L1266.6 313.5L1267.2 309.6L1267.9 308.7L1268.6 298.6L1269.3 301.2L1270 315L1270.7 313.9L1271.4 304.1L1272.1 307.6L1272.7 320.5L1273.4 317L1274.1 304.1L1274.8 294L1275.5 293.2L1276.2 292.7L1276.8 282.2L1277.5 285.1L1278.2 293.2L1278.9 290.1L1279.6 276.8L1280.2 274.9L1280.9 282.2L1281.6 282L1282.3 271.3L1283 272.6L1283.7 282.2L1284.3 278.5L1285 268.6L1285.7 255.9L1286.4 249.4L1287.1 258L1287.8 257.6L1288.4 266.5L1289.1 279.5L1289.8 271.9L1290.5 260.4L1291.2 249.7L1291.9 249.4L1292.6 249.6L1293.2 238.5L1293.9 244.8L1294.6 254.9L1295.3 246.9L1296 230.3L1296.7 218.9L1297.3 219.3L1298 229.7L1298.7 233L1299.4 225.7L1300.1 227.5L1300.8 228.6L1301.4 224.8L1302.1 221.6L1302.8 222.1L1303.5 217.6L1304.2 208.4L1304.8 199.4L1305.5 194.7L1306.2 188.8L1306.9 178.3L1307.6 177.6L1308.3 186.5L1308.9 179.1L1309.6 161.9L1310.3 154.4L1311 150.9L1311.7 159.8L1312.4 159.1L1313.1 155.6L1313.7 161.9L1314.4 175.9L1315.1 181L1315.8 184.1L1316.5 194.7L1317.2 201.7L1317.9 202.9L1318.6 200.8L1319.2 208.4L1319.9 217.1L1320.6 222.1L1321.3 223.7L1322 235.7L1322.7 242.9L1323.3 243.9L1324 246.9L1324.7 254.9L1325.4 264.2L1326.1 265.8L1326.8 266.6L1327.4 274L1328.1 270.8L1328.8 260.4L1329.2 249.5L1330.2 262.1L1330.8 250.2L1331.3 243.2L1332.3 239L1332.8 241.2L1333.4 236.8L1334.4 249.5L1335 266.3L1335.9 241L1336.5 233.4L1337 234.7L1338 222.1L1339 228.4L1339.5 228.7L1340.1 222.1L1340.7 221.6L1341.2 232.6L1341.8 241L1342.4 241L1343 241.1L1343.5 245.3L1344.5 232.6L1345 232.1L1345.6 222.1L1346.6 228.4L1347.2 221L1347.7 220L1348.7 217.9L1349.2 219.6L1349.8 209.5L1350.8 199L1351.3 189.4L1351.9 188.4L1352.9 184.2L1353.5 190.9L1354 190.5L1354.5 182.4L1355.1 181.1L1356.1 192.6L1356.7 202.2L1357.2 203.2L1358.2 207.4L1358.8 204.3L1359.3 211.6L1360.3 203.2L1360.8 202.9L1361.4 199L1362.4 190.5L1363 195.4L1363.5 207.4L1364.5 224.2L1365 227.3L1365.6 220L1366.6 230.5L1367.2 224.3L1367.7 222.1L1368.7 215.8L1369.2 216.8L1369.8 207.4L1370.8 220L1371.3 220L1371.9 228.4L1372.9 234.7L1373.5 239L1374 232.6L1374.5 223.7L1375.1 224.2L1376.1 236.8L1377 249.5L1377.8 266.3L1378.2 277.9" stroke="#ffffff" stroke-width="1.6" fill="none" stroke-linejoin="round"/>
</svg>
<div class="t lr" style="left:1410px;top:142.2px">5.0000</div>
<div class="t lr" style="left:1410px;top:248.3px">4.0000</div>
<div class="t lr" style="left:1410px;top:354.4px">3.0000</div>
<div class="t lr" style="left:1410px;top:460.5px">2.0000</div>
<div class="t lr" style="left:1410px;top:566.6px">1.0000</div>
<div class="t ll" style="right:1399px;top:242.2px">30000</div>
<div class="t ll" style="right:1399px;top:339.3px">25000</div>
<div class="t ll" style="right:1399px;top:436.4px">20000</div>
<div class="t ll" style="right:1399px;top:533.5px">15000</div>
<div class="t ll" style="right:1399px;top:630.6px">10000</div>
<div class="t yl" style="left:108.7px;top:689.7px;width:50px;margin-left:-25px">2009</div>
<div class="t yl" style="left:192.7px;top:689.7px;width:50px;margin-left:-25px">2010</div>
<div class="t yl" style="left:276.8px;top:689.7px;width:50px;margin-left:-25px">2011</div>
<div class="t yl" style="left:360.9px;top:689.7px;width:50px;margin-left:-25px">2012</div>
<div class="t yl" style="left:445px;top:689.7px;width:50px;margin-left:-25px">2013</div>
<div class="t yl" style="left:529.1px;top:689.7px;width:50px;margin-left:-25px">2014</div>
<div class="t yl" style="left:613.1px;top:689.7px;width:50px;margin-left:-25px">2015</div>
<div class="t yl" style="left:697.2px;top:689.7px;width:50px;margin-left:-25px">2016</div>
<div class="t yl" style="left:781.4px;top:689.7px;width:50px;margin-left:-25px">2017</div>
<div class="t yl" style="left:865.4px;top:689.7px;width:50px;margin-left:-25px">2018</div>
<div class="t yl" style="left:949.4px;top:689.7px;width:50px;margin-left:-25px">2019</div>
<div class="t yl" style="left:1033.5px;top:689.7px;width:50px;margin-left:-25px">2020</div>
<div class="t yl" style="left:1117.7px;top:689.7px;width:50px;margin-left:-25px">2021</div>
<div class="t yl" style="left:1201.7px;top:689.7px;width:50px;margin-left:-25px">2022</div>
<div class="t yl" style="left:1285.7px;top:689.7px;width:50px;margin-left:-25px">2023</div>
<div class="t yl" style="left:1364.6px;top:689.7px;width:50px;margin-left:-25px">2024</div>

<svg class="a" style="left:5px;top:143px" width="62" height="18"><path d="M1 0.2H54.5L60.8 8.5L54.5 16.8H1Z" fill="#e9d51c"/></svg>
<div class="t" style="left:7.5px;top:144.2px;font-size:12.5px;color:#111;line-height:16px">35051.43</div>
<svg class="a" style="left:1402px;top:265px" width="50" height="18"><path d="M6 0.2H49V17H6L1 8.7Z" fill="#fafafa"/></svg>
<div class="t" style="left:1409px;top:266.2px;font-size:12.5px;color:#111;line-height:16px">3.8335</div>
</body></html>
